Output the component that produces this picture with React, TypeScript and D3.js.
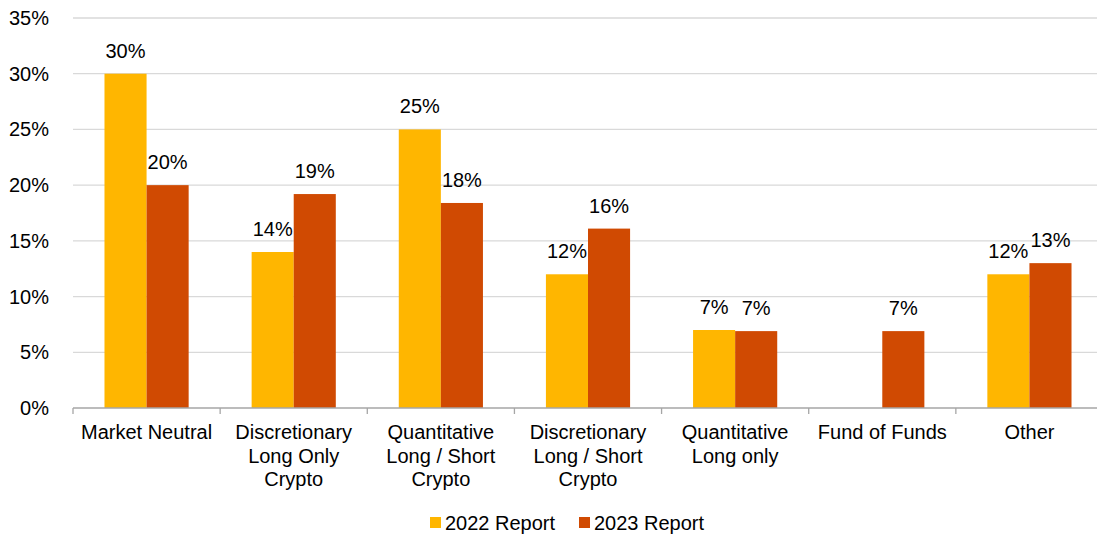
import React, { useEffect, useRef } from 'react';
import * as d3 from 'd3';

const categories = [
    "Market Neutral",
    "Discretionary Long Only Crypto",
    "Quantitative Long / Short Crypto",
    "Discretionary Long / Short Crypto",
    "Quantitative Long only",
    "Fund of Funds",
    "Other",
];
// wrapped lines for the axis labels
const categoryLines = [
    ["Market Neutral"],
    ["Discretionary", "Long Only", "Crypto"],
    ["Quantitative", "Long / Short", "Crypto"],
    ["Discretionary", "Long / Short", "Crypto"],
    ["Quantitative", "Long only"],
    ["Fund of Funds"],
    ["Other"],
];
const seriesNames = ["2022 Report", "2023 Report"];
const report2022: (number | null)[] = [30, 14, 25, 12, 7, null, 12];
const report2023: (number | null)[] = [20, 19.2, 18.4, 16.1, 6.9, 6.9, 13];
const yTicks = [0, 5, 10, 15, 20, 25, 30, 35];
const colors = ["#FFB600", "#D04A02"];

const App = () => {
    const svgRef = useRef<SVGSVGElement>(null);

    useEffect(() => {
        const width = 1097;
        const height = 536;
        const margin = { top: 18, right: -6, bottom: 128, left: 73 };
        const font = "Arial, 'Liberation Sans', sans-serif";
        const fs = 20;

        const svg = d3.select(svgRef.current);
        svg.selectAll("*").remove();
        svg.attr("width", width).attr("height", height).style("font-family", font);

        const x0 = d3.scaleBand<string>()
            .domain(categories)
            .range([margin.left, width - margin.right]);

        const groupWidth = x0.bandwidth() * 0.572;
        const x1 = d3.scaleBand<string>()
            .domain(seriesNames)
            .range([0, groupWidth]);

        const y = d3.scaleLinear()
            .domain([0, 35])
            .range([height - margin.bottom, margin.top]);

        // gridlines
        svg.append("g")
            .selectAll("line")
            .data(yTicks.slice(1))
            .join("line")
            .attr("x1", margin.left)
            .attr("x2", width - margin.right)
            .attr("y1", d => y(d))
            .attr("y2", d => y(d))
            .attr("stroke", "#D9D9D9")
            .attr("stroke-width", 1.3);

        // y labels
        svg.append("g")
            .selectAll("text")
            .data(yTicks)
            .join("text")
            .attr("x", margin.left - 24)
            .attr("y", d => y(d) + 7)
            .attr("text-anchor", "end")
            .attr("font-size", fs)
            .attr("fill", "#000")
            .text(d => `${d}%`);

        // bars + labels
        const series = [report2022, report2023];
        series.forEach((vals, si) => {
            const g = svg.append("g");
            categories.forEach((c, ci) => {
                const v = vals[ci];
                if (v === null) return;
                const bx = x0(c)! + (x0.bandwidth() - groupWidth) / 2 + x1(seriesNames[si])!;
                g.append("rect")
                    .attr("x", bx)
                    .attr("y", y(v))
                    .attr("width", x1.bandwidth())
                    .attr("height", y(0) - y(v))
                    .attr("fill", colors[si]);
                g.append("text")
                    .attr("x", bx + x1.bandwidth() / 2)
                    .attr("y", y(v) - 16)
                    .attr("text-anchor", "middle")
                    .attr("font-size", fs)
                    .attr("fill", "#000")
                    .text(`${Math.round(v)}%`);
            });
        });

        // x axis
        const axisY = y(0);
        svg.append("line")
            .attr("x1", margin.left)
            .attr("x2", width - margin.right)
            .attr("y1", axisY)
            .attr("y2", axisY)
            .attr("stroke", "#A6A6A6")
            .attr("stroke-width", 1.3);

        svg.append("g")
            .selectAll("line")
            .data(categories.map(c => x0(c)!).concat([x0.range()[1]]))
            .join("line")
            .attr("x1", d => d)
            .attr("x2", d => d)
            .attr("y1", axisY)
            .attr("y2", axisY + 6)
            .attr("stroke", "#A6A6A6")
            .attr("stroke-width", 1.3);

        categories.forEach((c, ci) => {
            const t = svg.append("text")
                .attr("text-anchor", "middle")
                .attr("font-size", fs)
                .attr("fill", "#000");
            categoryLines[ci].forEach((line, li) => {
                t.append("tspan")
                    .attr("x", x0(c)! + x0.bandwidth() / 2)
                    .attr("y", axisY + 31 + li * 23.5)
                    .text(line);
            });
        });

        // legend
        const legend = svg.append("g").attr("transform", `translate(430, 517)`);
        const offsets = [0, 149];
        seriesNames.forEach((s, i) => {
            legend.append("rect")
                .attr("x", offsets[i])
                .attr("y", 0)
                .attr("width", 11)
                .attr("height", 11)
                .attr("fill", colors[i]);
            legend.append("text")
                .attr("x", offsets[i] + 15)
                .attr("y", 13)
                .attr("font-size", fs)
                .attr("fill", "#000")
                .text(s);
        });
    }, []);

    return (
        <div style={{ position: 'absolute', left: 0, top: 0, background: '#fff' }}>
            <svg ref={svgRef} style={{ display: 'block' }}></svg>
        </div>
    );
};

export default App;
